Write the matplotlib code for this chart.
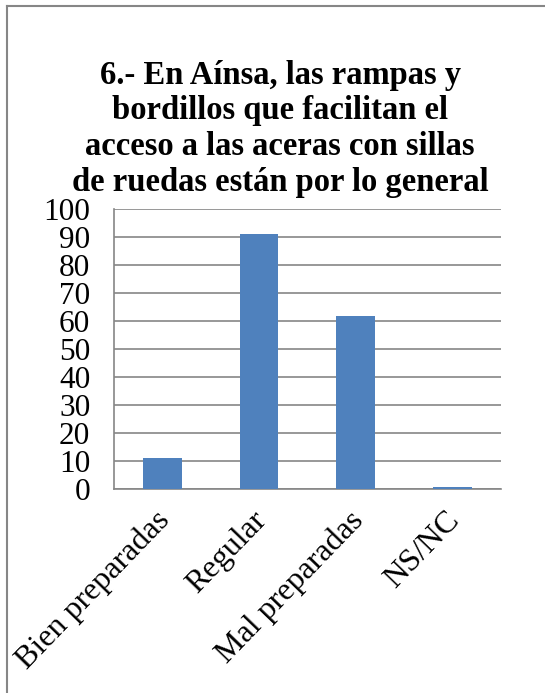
import matplotlib
matplotlib.use('agg')
import matplotlib.pyplot as plt
from matplotlib.lines import Line2D

plt.rcParams['font.family'] = ['Liberation Serif', 'DejaVu Serif']

titulo = "6.- En Aínsa, las rampas y\nbordillos que facilitan el\nacceso a las aceras con sillas\nde ruedas están por lo general"
categorias = ['Bien preparadas', 'Regular', 'Mal preparadas', 'NS/NC']
valores = [11, 91, 62, 0.7]
ticks_y = [0, 10, 20, 30, 40, 50, 60, 70, 80, 90, 100]

gris = '#868686'
fig = plt.figure(figsize=(5.45, 6.93), dpi=100)
ax = fig.add_axes([0.209, 0.294, 0.71, 0.404])

x = list(range(len(categorias)))
ax.bar(x, valores, width=0.4, color='#4F81BD', zorder=3)
ax.set_xlim(-0.5, len(categorias) - 0.5)
ax.set_ylim(0, 100)
ax.set_yticks(ticks_y)
ax.set_yticklabels([str(t) for t in ticks_y], fontsize=22.5)
# etiquetas un poco a la izquierda del centro de cada barra
ax.set_xticks([i - 0.08 for i in x])
ax.set_xticklabels(categorias, fontsize=23, rotation=46, ha='right',
                   rotation_mode='anchor')
ax.tick_params(axis='y', length=0, pad=17)
ax.tick_params(axis='x', length=0, pad=12)
ax.yaxis.grid(True, color=gris, linewidth=1.2, zorder=0)
for s in ['top', 'right']:
    ax.spines[s].set_visible(False)
for s in ['left', 'bottom']:
    ax.spines[s].set_color(gris)
    ax.spines[s].set_linewidth(1.2)

fig.text(0.514, 0.914, titulo, ha='center', va='top', fontsize=23.5,
         fontweight='bold', linespacing=1.2)

# borde del cuadro del gráfico
fig.add_artist(Line2D([7/545, 7/545], [0, 1 - 6/693], color=gris, linewidth=1.5))
fig.add_artist(Line2D([7/545, 1], [1 - 6/693, 1 - 6/693], color=gris, linewidth=1.5))

fig.savefig('out.png', dpi=100)
